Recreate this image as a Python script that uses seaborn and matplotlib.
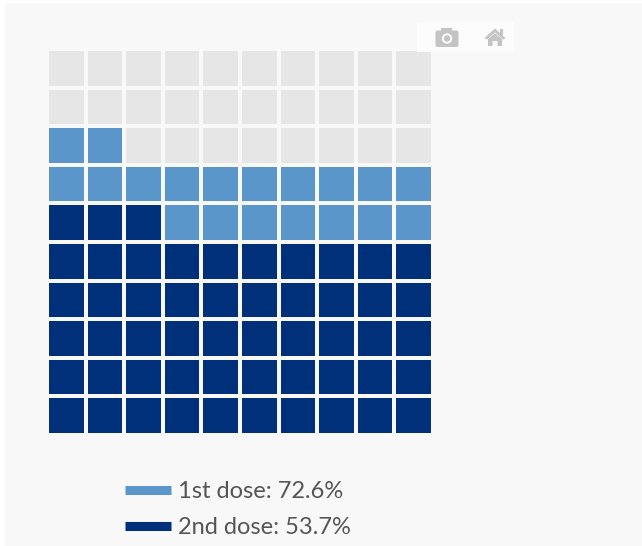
import numpy as np
import matplotlib
matplotlib.use("Agg")
import matplotlib.pyplot as plt
from matplotlib.colors import ListedColormap
from matplotlib.lines import Line2D
from matplotlib.patches import Rectangle, Circle, FancyBboxPatch, Polygon
import seaborn as sns

# waffle rows from top to bottom: 0 = not vaccinated, 1 = 1st dose, 2 = 2nd dose
row_1 = [0, 0, 0, 0, 0, 0, 0, 0, 0, 0]
row_2 = [0, 0, 0, 0, 0, 0, 0, 0, 0, 0]
row_3 = [1, 1, 0, 0, 0, 0, 0, 0, 0, 0]
row_4 = [1, 1, 1, 1, 1, 1, 1, 1, 1, 1]
row_5 = [2, 2, 2, 1, 1, 1, 1, 1, 1, 1]
row_6 = [2, 2, 2, 2, 2, 2, 2, 2, 2, 2]
row_7 = [2, 2, 2, 2, 2, 2, 2, 2, 2, 2]
row_8 = [2, 2, 2, 2, 2, 2, 2, 2, 2, 2]
row_9 = [2, 2, 2, 2, 2, 2, 2, 2, 2, 2]
row_10 = [2, 2, 2, 2, 2, 2, 2, 2, 2, 2]

legend_labels = ["1st dose: 72.6%", "2nd dose: 53.7%"]

BG = "#f8f8f8"
GREY = "#e6e6e6"
LIGHT = "#5b96cb"
DARK = "#00307a"
ICON = "#c4c4c4"
W, H = 642, 546

sns.set_theme(style="white")
plt.rcParams["font.family"] = ["Lato", "DejaVu Sans"]

cells = np.array([row_1, row_2, row_3, row_4, row_5, row_6, row_7, row_8, row_9, row_10])

fig = plt.figure(figsize=(W / 100, H / 100), dpi=100, facecolor="white")
fig.add_artist(Rectangle((5 / W, 0), 1 - 5 / W, 1 - 3 / H, transform=fig.transFigure,
                         facecolor=BG, edgecolor="none", zorder=-5))

# heatmap area in pixels: x 48-432, y 50-434
ax = fig.add_axes([47 / W, 1 - 435 / H, 386 / W, 386 / H])
sns.heatmap(cells, ax=ax, cmap=ListedColormap([GREY, LIGHT, DARK]), vmin=0, vmax=2,
            cbar=False, linewidths=1.7, linecolor=BG, square=False,
            xticklabels=False, yticklabels=False)

# pixel overlay for the plotly style toolbar
top = fig.add_axes([0, 0, 1, 1], facecolor="none")
top.set_xlim(0, W)
top.set_ylim(H, 0)
top.axis("off")
top.add_patch(Rectangle((417, 22), 97, 30, facecolor="#fcfcfc", edgecolor="none"))

# camera
top.add_patch(FancyBboxPatch((435.5, 30.5), 23, 16.5, boxstyle="round,pad=0,rounding_size=2",
                             facecolor=ICON, edgecolor="none"))
top.add_patch(Rectangle((441, 27.5), 11, 4, facecolor=ICON, edgecolor="none"))
top.add_patch(Circle((447, 38.5), 5.2, facecolor="#fcfcfc", edgecolor="none"))
top.add_patch(Circle((447, 38.5), 3.2, facecolor=ICON, edgecolor="none"))

# home
top.add_patch(Polygon([(484.5, 38), (495, 28.5), (505.5, 38), (503, 39.5), (495, 32.5), (487, 39.5)],
                      facecolor=ICON, edgecolor="none"))
top.add_patch(Polygon([(488, 39), (495, 33.5), (502, 39), (502, 46), (497.5, 46), (497.5, 41),
                       (492.5, 41), (492.5, 46), (488, 46)], facecolor=ICON, edgecolor="none"))
top.add_patch(Rectangle((500, 29), 3, 6, facecolor=ICON, edgecolor="none"))

handles = [Line2D([], [], color=LIGHT, lw=6.5, solid_capstyle="butt"),
           Line2D([], [], color=DARK, lw=6.5, solid_capstyle="butt")]
leg = fig.legend(handles, legend_labels, loc="upper left", bbox_to_anchor=(125 / W, 1 - 481.5 / H),
                 frameon=False, fontsize=17, handlelength=1.95, handletextpad=0.3,
                 labelspacing=0.62, borderpad=0, borderaxespad=0, labelcolor="#555555")

fig.savefig("out.png", dpi=100, facecolor="white")
